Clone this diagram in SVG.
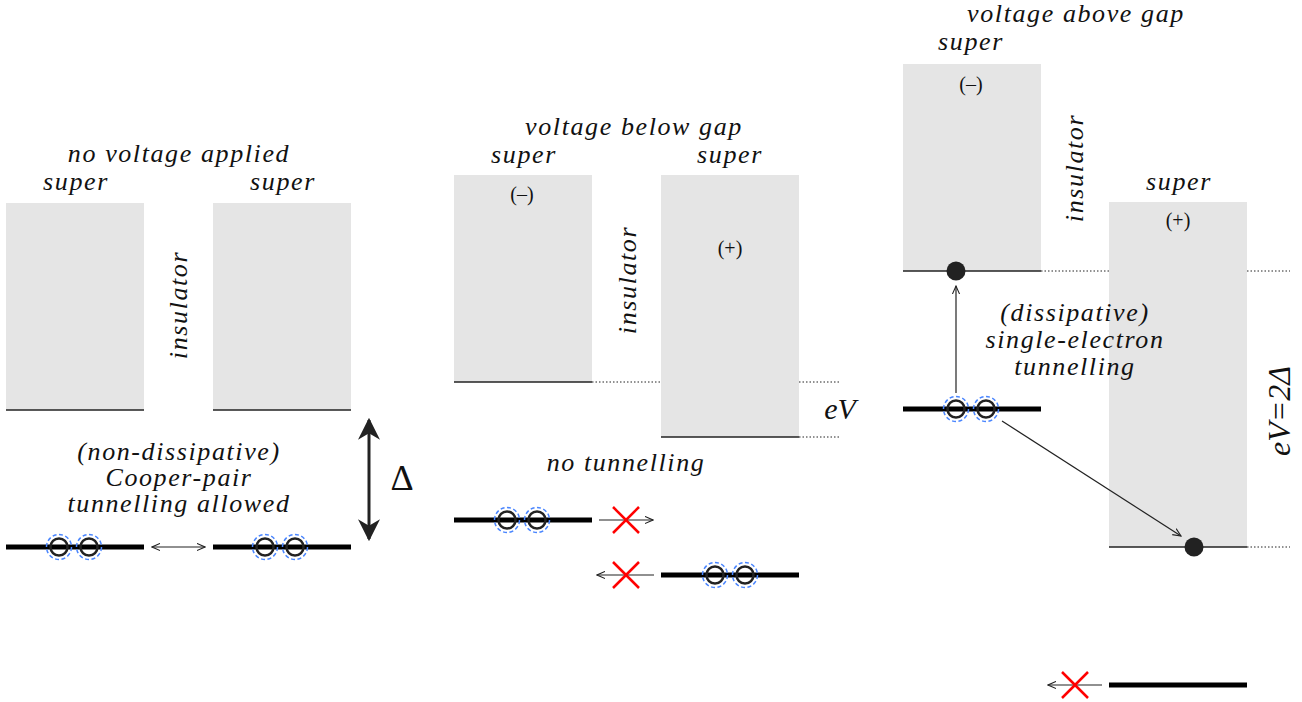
<svg xmlns="http://www.w3.org/2000/svg" width="1302" height="702" viewBox="0 0 1302 702">
<defs>
<style>
.t{font-family:"Liberation Serif","Times New Roman",serif;font-style:italic;font-size:26px;letter-spacing:1.6px;fill:#111;text-anchor:middle}
.m{font-family:"Liberation Serif","Times New Roman",serif;font-style:italic;fill:#111;text-anchor:middle}
.s{font-family:"Liberation Serif","Times New Roman",serif;font-size:20px;fill:#111;text-anchor:middle}
.box{fill:#e5e5e5}
.edge{stroke:#222;stroke-width:1.5}
.dot{stroke:#222;stroke-width:1;stroke-dasharray:1.5 2}
.lvl{stroke:#000;stroke-width:5}
.pc{fill:none;stroke:#222;stroke-width:2.5}
.pd{fill:none;stroke:#4a86ff;stroke-width:1.5;stroke-dasharray:4 2.5}
.ar{stroke:#222;stroke-width:1.2;fill:none}
.x{stroke:#f00;stroke-width:2.5}
</style>
<marker id="ah" viewBox="0 0 10 10" refX="9" refY="5" markerWidth="9" markerHeight="9" markerUnits="userSpaceOnUse" orient="auto-start-reverse"><path d="M0,1 L9,5 L0,9" fill="none" stroke="#222" stroke-width="1.2"/></marker>
<marker id="bh" viewBox="0 0 10 10" refX="9" refY="5" markerWidth="22" markerHeight="22" markerUnits="userSpaceOnUse" orient="auto-start-reverse"><path d="M0,0 L10,5 L0,10 L3,5 Z" fill="#222"/></marker>
<g id="pair"><circle cx="0" cy="0" r="12.5" class="pd"/><circle cx="0" cy="0" r="8.5" class="pc"/><circle cx="30" cy="0" r="12.5" class="pd"/><circle cx="30" cy="0" r="8.5" class="pc"/></g>
<g id="cross"><line x1="-13" y1="-13" x2="13" y2="13" class="x"/><line x1="-13" y1="13" x2="13" y2="-13" class="x"/></g>
</defs>
<rect width="1302" height="702" fill="#fff"/>

<g id="panel1">
<text class="t" x="179" y="162">no voltage applied</text>
<text class="t" x="76" y="190">super</text>
<text class="t" x="283" y="190">super</text>
<g id="p1-left"><rect class="box" x="6" y="203" width="138" height="207"/><line class="edge" x1="6" y1="410" x2="144" y2="410"/></g>
<g id="p1-right"><rect class="box" x="213" y="203" width="138" height="207"/><line class="edge" x1="213" y1="410" x2="351" y2="410"/></g>
<text class="t" transform="translate(187,305) rotate(-90)">insulator</text>
<text class="t" x="179" y="460">(non-dissipative)</text>
<text class="t" x="179" y="486">Cooper-pair</text>
<text class="t" x="179" y="512">tunnelling allowed</text>
<text x="402" y="490" font-family="Liberation Serif,serif" font-size="36" text-anchor="middle" fill="#111">Δ</text>
<g id="p1-lvl-left"><line class="lvl" x1="6" y1="547" x2="144" y2="547"/><use href="#pair" x="59" y="547"/></g>
<g id="p1-lvl-right"><line class="lvl" x1="213" y1="547" x2="351" y2="547"/><use href="#pair" x="265" y="547"/></g>
</g>

<g id="panel2">
<text class="t" x="634" y="135">voltage below gap</text>
<text class="t" x="524" y="163">super</text>
<text class="t" x="730" y="163">super</text>
<g id="p2-left"><rect class="box" x="454" y="175" width="138" height="207"/><line class="edge" x1="454" y1="382" x2="592" y2="382"/><text class="s" x="522" y="201">(–)</text></g>
<g id="p2-right"><rect class="box" x="661" y="175" width="138" height="262"/><line class="edge" x1="661" y1="437" x2="799" y2="437"/><text class="s" x="730" y="255">(+)</text></g>
<text class="t" transform="translate(636,280) rotate(-90)">insulator</text>
<text class="m" x="840" y="419" style="font-size:30px">eV</text>
<text class="t" x="626" y="471">no tunnelling</text>
<g id="p2-lvl-a"><line class="lvl" x1="454" y1="520" x2="592" y2="520"/><use href="#pair" x="507" y="520"/></g>
<g id="p2-lvl-b"><line class="lvl" x1="661" y1="575" x2="799" y2="575"/><use href="#pair" x="715" y="575"/></g>
</g>

<g id="panel3">
<text class="t" x="1076" y="22">voltage above gap</text>
<text class="t" x="971" y="50">super</text>
<text class="t" x="1179" y="190">super</text>
<g id="p3-left"><rect class="box" x="903" y="64" width="138" height="207"/><line class="edge" x1="903" y1="271" x2="1041" y2="271"/><text class="s" x="971" y="91">(–)</text><circle cx="956" cy="271" r="9.5" fill="#222"/></g>
<g id="p3-right"><rect class="box" x="1109" y="202" width="138" height="345"/><line class="edge" x1="1109" y1="547" x2="1247" y2="547"/><text class="s" x="1178" y="227">(+)</text><circle cx="1194" cy="547" r="9.5" fill="#222"/></g>
<text class="t" transform="translate(1083,168) rotate(-90)">insulator</text>
<text class="m" transform="translate(1290,411) rotate(-90)" style="font-size:32px">eV=2Δ</text>
<text class="t" x="1075" y="321">(dissipative)</text>
<text class="t" x="1075" y="348">single-electron</text>
<text class="t" x="1075" y="375">tunnelling</text>
<g id="p3-lvl"><line class="lvl" x1="903" y1="409" x2="1041" y2="409"/><use href="#pair" x="956" y="409"/></g>
<g id="p3-lvl-b"><line class="lvl" x1="1109" y1="685" x2="1247" y2="685"/></g>
</g>

<g id="connectors">
<line class="dot" x1="592" y1="382" x2="661" y2="382"/>
<line class="dot" x1="799" y1="382" x2="840" y2="382"/>
<line class="dot" x1="799" y1="437" x2="840" y2="437"/>
<line class="dot" x1="1041" y1="271" x2="1109" y2="271"/>
<line class="dot" x1="1247" y1="271" x2="1290" y2="271"/>
<line class="dot" x1="1247" y1="547" x2="1290" y2="547"/>
<line x1="369" y1="420" x2="369" y2="539" stroke="#222" stroke-width="3" marker-start="url(#bh)" marker-end="url(#bh)"/>
<line class="ar" x1="152" y1="547" x2="205" y2="547" marker-start="url(#ah)" marker-end="url(#ah)"/>
<line class="ar" x1="599" y1="520" x2="653" y2="520" marker-end="url(#ah)"/>
<use href="#cross" x="626" y="520"/>
<line class="ar" x1="654" y1="575" x2="597" y2="575" marker-end="url(#ah)"/>
<use href="#cross" x="626" y="575"/>
<line class="ar" x1="956" y1="393" x2="956" y2="286" marker-end="url(#ah)"/>
<line class="ar" x1="1002" y1="421" x2="1181" y2="536" marker-end="url(#ah)"/>
<line class="ar" x1="1102" y1="685" x2="1048" y2="685" marker-end="url(#ah)"/>
<use href="#cross" x="1075" y="685"/>
</g>
</svg>
